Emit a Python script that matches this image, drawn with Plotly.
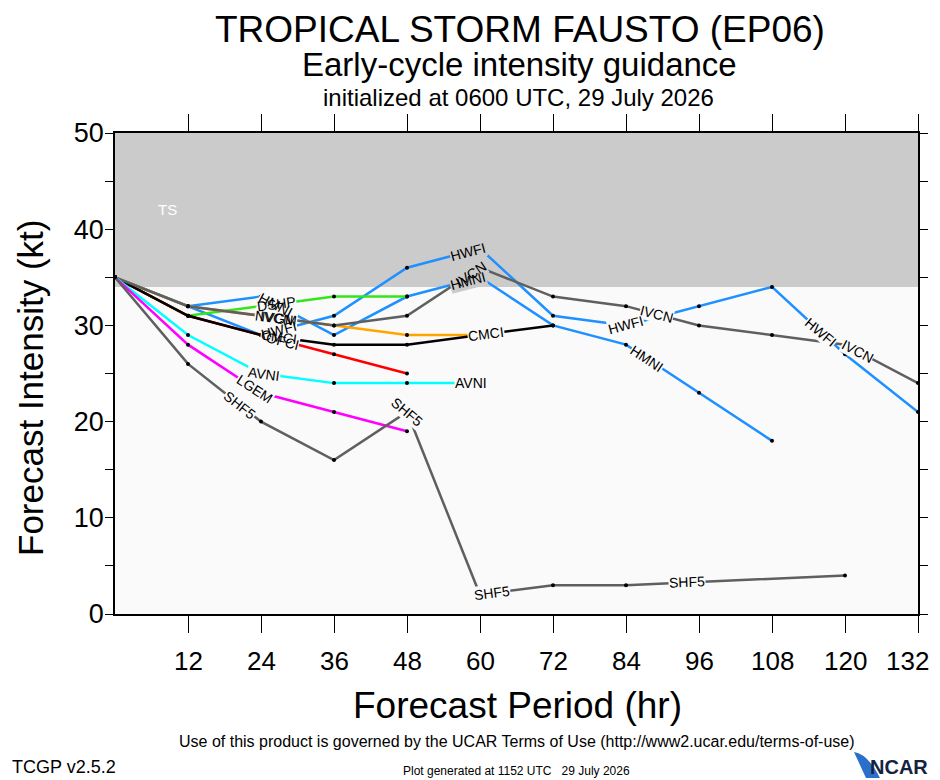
import math
import numpy as np
import plotly.graph_objects as go

# forecast hours and early-cycle intensity guidance (kt)
HOURS = [0, 12, 24, 36, 48, 60, 72, 84, 96, 108, 120, 132]

HWFI = [35, 32, 29, 31, 36, 38, 31, 30, 32, 34, 27, 21]
HMNI = [35, 32, 33, 29, 33, 35, 30, 28, 23, 18]
DSHP = [35, 31, 32, 33, 33]
OFCI = [35, 31, 29, 27, 25]
NVGM = [35, 32, 31, 30, 29, 29]
CMCI = [35, 31, 29, 28, 28, 29, 30]
IVCN = [35, 32, 31, 30, 31, 36, 33, 32, 30, 29, 28, 24]
AVNI = [35, 29, 25, 24, 24, 24]
LGEM = [35, 28, 23, 21, 19]
SHF5 = [35, 26, 20, 16, 21, 2, 3, 3, None, None, 4]

XTICKS = [12, 24, 36, 48, 60, 72, 84, 96, 108, 120, 132]
YTICKS = [0, 10, 20, 30, 40, 50]
TS_MIN = 34

# drawing order, later ones on top
MODELS = [
    ('HWFI', HWFI, '#1e90ff'),
    ('HMNI', HMNI, '#1e90ff'),
    ('DSHP', DSHP, '#33e61a'),
    ('OFCI', OFCI, '#ff0000'),
    ('NVGM', NVGM, '#ffa500'),
    ('CMCI', CMCI, '#000000'),
    ('IVCN', IVCN, '#5f5f5f'),
    ('AVNI', AVNI, '#00ffff'),
    ('LGEM', LGEM, '#ff00ff'),
    ('SHF5', SHF5, '#5f5f5f'),
]

# where the inline model labels sit (model, forecast hour)
LABELS = [
    ('SHF5', 20.5), ('SHF5', 48.0), ('SHF5', 62), ('SHF5', 94),
    ('LGEM', 23), ('AVNI', 24.5), ('AVNI', 58.5),
    ('CMCI', 61), ('CMCI', 27), ('OFCI', 27.5),
    ('HWFI', 58), ('HWFI', 84), ('HWFI', 116), ('HWFI', 27),
    ('HMNI', 58), ('HMNI', 87.5), ('HMNI', 26.5),
    ('IVCN', 58.5), ('IVCN', 89), ('IVCN', 122), ('IVCN', 26.5),
    ('DSHP', 26.5), ('NVGM', 26.5),
]

# the page body has an 8px margin, so the figure is shrunk by that much
OFF = 8
WIN_W, WIN_H = 940, 780
ML, MR, MT, MB = 115, 22, 133, 166      # plot area in window pixels
W, H = WIN_W - OFF, WIN_H - OFF
PW, PH = WIN_W - ML - MR, WIN_H - MT - MB
KX = PW / 132.0
KY = PH / 50.0

FONT = 'Liberation Sans, Arial, Helvetica, sans-serif'
BAND = '#cbcbcb'
PLOTBG = '#fafafa'


def pxx(p):
    return (p - ML) / PW


def pxy(p):
    return (WIN_H - MB - p) / PH


def points(vals):
    hs = [h for h, v in zip(HOURS, vals) if v is not None]
    vs = [v for v in vals if v is not None]
    return hs, vs


def label_pos(vals, hour):
    hs, vs = points(vals)
    v = float(np.interp(hour, hs, vs))
    i = max(0, min(np.searchsorted(hs, hour, side='right') - 1, len(hs) - 2))
    dv = vs[i + 1] - vs[i]
    dh = hs[i + 1] - hs[i]
    ang = math.degrees(math.atan2(-dv * KY, dh * KX))
    ang = max(-40, min(40, ang))
    return v, ang


fig = go.Figure()

for name, vals, color in MODELS:
    hs, vs = points(vals)
    fig.add_trace(go.Scatter(
        x=hs, y=vs, mode='lines+markers', name=name,
        line=dict(color=color, width=2.5),
        marker=dict(color='black', size=4),
        hoverinfo='x+y+name', showlegend=False))

fig.add_shape(type='rect', xref='x', yref='y', x0=0, x1=132, y0=TS_MIN, y1=50,
              fillcolor=BAND, line=dict(width=0), layer='below')
fig.add_annotation(x=8.7, y=42, text='TS', showarrow=False,
                   font=dict(family=FONT, size=15, color='white'))

lookup = {m[0]: m[1] for m in MODELS}
placed = [(n, h) + label_pos(lookup[n], h) for n, h in LABELS]
# masks first so overlapping labels stay readable
for n, h, v, ang in placed:
    bg = BAND if v > TS_MIN else PLOTBG
    fig.add_annotation(x=h, y=v, text=n, showarrow=False, textangle=ang,
                       bgcolor=bg, borderpad=0,
                       font=dict(family=FONT, size=14, color=bg))
for n, h, v, ang in placed:
    fig.add_annotation(x=h, y=v, text=n, showarrow=False, textangle=ang,
                       borderpad=0, font=dict(family=FONT, size=14, color='black'))

# x tick labels as annotations so the last one can hug the right edge
for t in XTICKS:
    last = t == XTICKS[-1]
    fig.add_annotation(x=t, xref='x', yref='paper', y=pxy(661), text=str(t),
                       showarrow=False, yanchor='middle',
                       xanchor='right' if last else 'center',
                       xshift=13 if last else 0,
                       font=dict(family=FONT, size=26, color='black'))

ytv = list(range(0, 51, 5))
ytt = [str(t) if t in YTICKS else '' for t in ytv]

fig.update_layout(
    width=W, height=H, autosize=False,
    margin=dict(l=ML - OFF, r=MR, t=MT - OFF, b=MB, pad=0, autoexpand=False),
    paper_bgcolor='white', plot_bgcolor=PLOTBG,
    font=dict(family=FONT, color='black'),
    xaxis=dict(range=[0, 132], tickvals=XTICKS, showticklabels=False,
               showgrid=False, zeroline=False, showline=True, linecolor='black',
               linewidth=1.5, mirror='ticks', ticks='outside', ticklen=17,
               tickwidth=1.2, tickcolor='black', automargin=False),
    yaxis=dict(range=[0, 50], tickvals=ytv, ticktext=ytt,
               showgrid=False, zeroline=False, showline=True, linecolor='black',
               linewidth=1.5, mirror='ticks', ticks='outside', ticklen=8,
               tickwidth=1.2, tickcolor='black', tickfont=dict(size=27),
               ticklabelstandoff=-4, automargin=False),
)

texts = [
    ('TROPICAL STORM FAUSTO (EP06)', 520, 30, 37),
    ('Early-cycle intensity guidance', 519, 64, 33),
    ('initialized at 0600 UTC, 29 July 2026', 518, 97, 24),
    ('Forecast Period (hr)', 517, 705, 37),
    ('Use of this product is governed by the UCAR Terms of Use (http://www2.ucar.edu/terms-of-use)',
     517, 741, 16),
    ('Plot generated at 1152 UTC   29 July 2026', 516, 771, 12),
]
for t, x, y, s in texts:
    fig.add_annotation(xref='paper', yref='paper', x=pxx(x), y=pxy(y), text=t,
                       showarrow=False, xanchor='center', yanchor='middle',
                       font=dict(family=FONT, size=s, color='black'))

fig.add_annotation(xref='paper', yref='paper', x=pxx(30), y=pxy(388),
                   text='Forecast Intensity (kt)', textangle=-90, showarrow=False,
                   xanchor='center', yanchor='middle',
                   font=dict(family=FONT, size=35, color='black'))
fig.add_annotation(xref='paper', yref='paper', x=pxx(10), y=pxy(767),
                   text='TCGP v2.5.2', showarrow=False, xanchor='left', yanchor='middle',
                   font=dict(family=FONT, size=18, color='black'))
fig.add_annotation(xref='paper', yref='paper', x=pxx(930), y=pxy(767),
                   text='<b>NCAR</b>', showarrow=False, xanchor='right', yanchor='middle',
                   font=dict(family=FONT, size=20, color='#14233f'))
# NCAR swoosh
fig.add_shape(type='path', xref='paper', yref='paper', layer='above',
              path='M {:.4f},{:.4f} Q {:.4f},{:.4f} {:.4f},{:.4f} L {:.4f},{:.4f} Z'.format(
                  pxx(854), pxy(752), pxx(868), pxy(754), pxx(880), pxy(778),
                  pxx(866), pxy(778)),
              fillcolor='#2a6fc9', line=dict(width=0))

fig.write_html('out.html')
